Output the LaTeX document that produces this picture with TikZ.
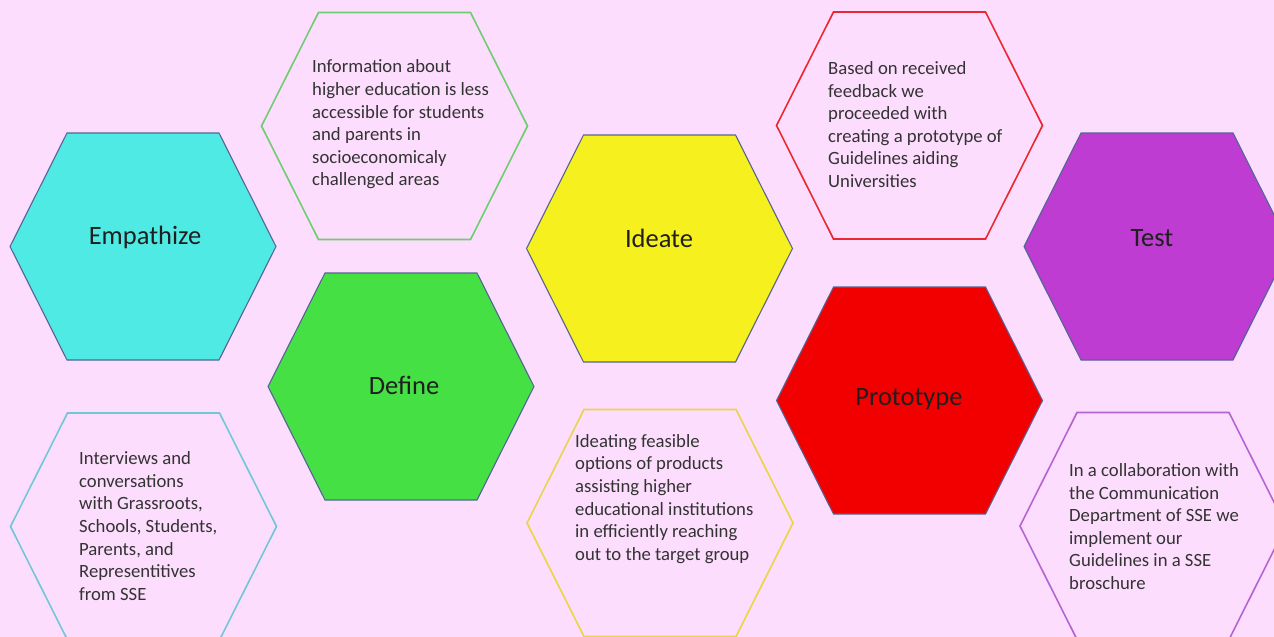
\documentclass[tikz,border=0pt]{standalone}
\usepackage{fontspec}
\setmainfont{Carlito}
\begin{document}
\begin{tikzpicture}[x=1pt,y=-1pt,
  hexa/.pic={\path[pic actions] (-133,0) -- (-76,-113.5) -- (76,-113.5) -- (133,0) -- (76,113.5) -- (-76,113.5) -- cycle;},
  hexfill/.style={draw=edgeblue,line width=1.1pt,line join=miter},
  hexline/.style={line width=1.6pt,line join=miter},
  label/.style={inner sep=0pt,text=black!88,font=\fontsize{26.5}{30}\selectfont},
  info/.style={inner sep=0pt,anchor=west,align=left,text=black!80,font=\fontsize{18.7}{22.6}\selectfont}]
\definecolor{bgpink}{RGB}{253,221,253}
\definecolor{edgeblue}{RGB}{84,100,150}
\definecolor{cyanfill}{RGB}{80,234,228}
\definecolor{greenfill}{RGB}{68,224,68}
\definecolor{yellowfill}{RGB}{245,240,30}
\definecolor{redfill}{RGB}{242,0,0}
\definecolor{purplefill}{RGB}{190,60,210}
\definecolor{greenline}{RGB}{110,205,110}
\definecolor{cyanline}{RGB}{110,200,215}
\definecolor{yellowline}{RGB}{232,214,70}
\definecolor{redline}{RGB}{232,40,50}
\definecolor{purpleline}{RGB}{180,100,210}
\useasboundingbox (0,0) rectangle (1274,637);
\fill[bgpink] (0,0) rectangle (1274,637);
\clip (0,0) rectangle (1274,637);

% filled stage hexagons
\pic[hexfill,fill=cyanfill]   at (143,246.5) {hexa};
\pic[hexfill,fill=greenfill]  at (401,386.5) {hexa};
\pic[hexfill,fill=yellowfill] at (659.5,248.5) {hexa};
\pic[hexfill,fill=redfill]    at (909.5,400.5) {hexa};
\pic[hexfill,fill=purplefill] at (1157,246.5) {hexa};

% outlined description hexagons
\pic[hexline,draw=greenline]  at (394.5,126) {hexa};
\pic[hexline,draw=cyanline]   at (143.5,526.5) {hexa};
\pic[hexline,draw=yellowline] at (660,523) {hexa};
\pic[hexline,draw=redline]    at (909.5,125.5) {hexa};
\pic[hexline,draw=purpleline] at (1153,526) {hexa};

% stage names
\node[label] (empathize) at (145,237) {Empathize};
\node[label] (define)    at (404,385) {Define};
\node[label] (ideate)    at (659,238) {Ideate};
\node[label] (prototype) at (909,399) {Prototype};
\node[label] (test)      at (1152,238) {Test};

% descriptions
\node[info] (infoabout) at (312,124.5) {Information about\\higher education is less\\accessible for students\\and parents in\\socioeconomicaly\\challenged areas};
\node[info] (interviews) at (79,526) {Interviews and\\conversations\\with Grassroots,\\Schools, Students,\\Parents, and\\Representitives\\from SSE};
\node[info] (ideating) at (575,499) {Ideating feasible\\options of products\\assisting higher\\educational institutions\\in efficiently reaching\\out to the target group};
\node[info] (based) at (828,124.5) {Based on received\\feedback we\\proceeded with\\creating a prototype of\\Guidelines aiding\\Universities};
\node[info] (collab) at (1069,526.5) {In a collaboration with\\the Communication\\Department of SSE we\\implement our\\Guidelines in a SSE\\broschure};
\end{tikzpicture}
\end{document}
